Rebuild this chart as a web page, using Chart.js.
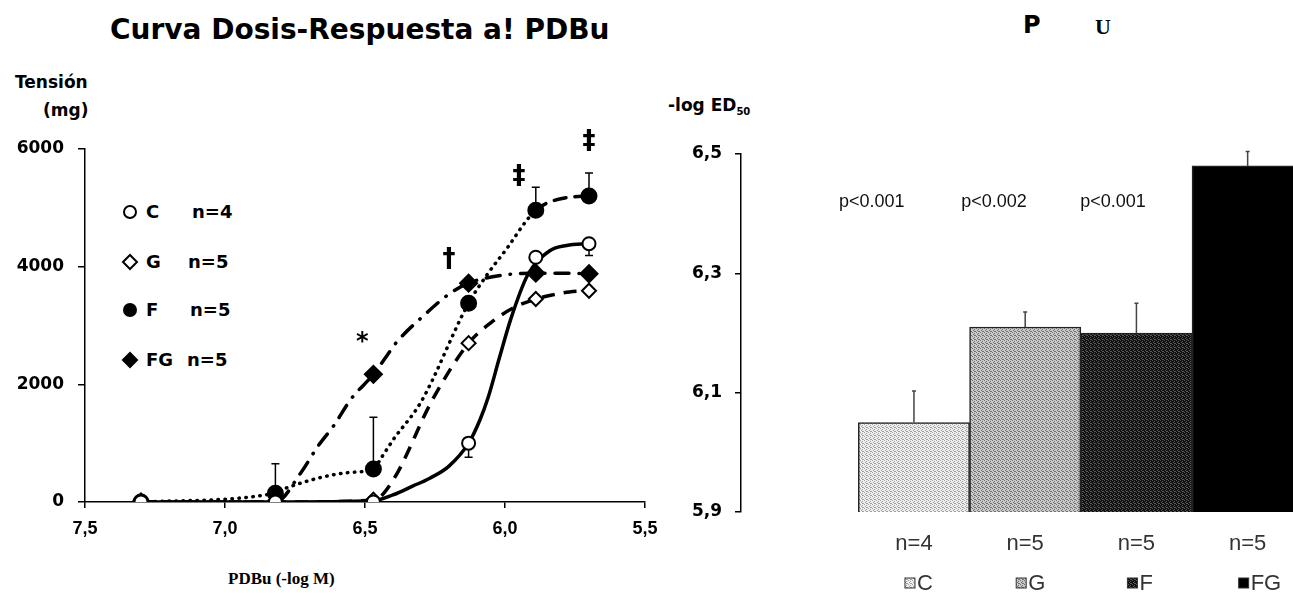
<!DOCTYPE html>
<html>
<head>
<meta charset="utf-8">
<script src="https://cdn.jsdelivr.net/npm/chart.js@4.4.1/dist/chart.umd.min.js"></script>
<style>
html, body { margin:0; padding:0; background:#fff; width:1293px; height:593px; overflow:hidden; position:relative; }
.t { position:absolute; white-space:nowrap; color:#000; line-height:1; }
.dj { font-family:'DejaVu Sans', sans-serif; font-weight:bold; }
canvas { position:absolute; }
</style>
</head>
<body>
<div class="t dj" style="left:110px;top:16px;font-size:28px">Curva Dosis-Respuesta a! PDBu</div>
<div class="t dj" style="left:15px;top:74px;font-size:17px">Tensión</div>
<div class="t dj" style="left:43px;top:102px;font-size:17px">(mg)</div>
<div class="t" style="left:228px;top:569px;font:bold 17px 'Liberation Serif', serif">PDBu (-log M)</div>

<div class="t dj" style="left:146px;top:203px;font-size:18px">C</div><div class="t dj" style="left:192px;top:203px;font-size:18px">n=4</div>
<div class="t dj" style="left:146px;top:253px;font-size:18px">G</div><div class="t dj" style="left:188px;top:253px;font-size:18px">n=5</div>
<div class="t dj" style="left:146px;top:301px;font-size:18px">F</div><div class="t dj" style="left:190px;top:301px;font-size:18px">n=5</div>
<div class="t dj" style="left:146px;top:351px;font-size:18px">FG</div><div class="t dj" style="left:187px;top:351px;font-size:18px">n=5</div>

<div class="t dj" style="left:668px;top:97px;font-size:17px">-log ED<sub style="font-size:10px">50</sub></div>
<div class="t dj" style="left:1023px;top:13px;font-size:24px">P</div>
<div class="t" style="left:1095px;top:14px;font:bold 22px 'Liberation Serif', serif">U</div>

<canvas id="curve" width="680" height="440" style="left:0;top:120px"></canvas>
<canvas id="ed50" width="720" height="473" style="left:640px;top:120px"></canvas>

<script>
// Curva dosis-respuesta al PDBu + -log ED50 por grupo

// measured points (dose in -log M, tension in mg)
const doses = [7.3, 6.82, 6.47, 6.13, 5.89, 5.7];
const tensC  = [0, 0, 0, 1000, 4160, 4390];
const tensG  = [0, 0, 40, 2700, 3450, 3590];
const tensF  = [0, 150, 560, 3380, 4960, 5200];
const tensFG = [0, 0, 2170, 3720, 3890, 3880];
const errUpF   = [0, 500, 880, 0, 390, 390];
const errDownC = [0, 0, 0, 240, 0, 200];

// fitted curves as drawn in the figure
const fitDoseC = [7.3, 6.82, 6.47, 6.40, 6.33, 6.27, 6.20, 6.13, 6.09, 6.06, 6.02, 5.98, 5.92, 5.84, 5.78, 5.7];
const fitC     = [0, 0, 20, 120, 270, 400, 610, 1000, 1390, 1780, 2450, 3100, 3850, 4270, 4360, 4390];
const fitDoseG = [7.3, 6.82, 6.47, 6.40, 6.26, 6.13, 6.05, 5.97, 5.89, 5.83, 5.77, 5.7];
const fitG     = [0, 0, 30, 370, 1730, 2700, 3050, 3300, 3450, 3520, 3570, 3590];
const fitDoseF = [7.3, 6.82, 6.78, 6.56, 6.47, 6.44, 6.40, 6.30, 6.13, 6.06, 5.99, 5.93, 5.89, 5.84, 5.77, 5.7];
const fitF     = [0, 150, 240, 500, 564, 765, 1054, 1700, 3380, 3890, 4330, 4740, 4960, 5100, 5180, 5200];
const fitDoseFG = [7.3, 6.82, 6.73, 6.67, 6.61, 6.55, 6.47, 6.42, 6.39, 6.28, 6.20, 6.13, 6.0, 5.89, 5.81, 5.7];
const fitFG     = [0, 0, 490, 935, 1309, 1750, 2170, 2500, 2700, 3213, 3535, 3720, 3860, 3890, 3890, 3880];

const xTicksL = [7.5, 7.0, 6.5, 6.0, 5.5];
const yTicksL = [0, 2000, 4000, 6000];

// significance marks
const signs    = ['*', '†', '‡', '‡'];
const signDose = [6.51, 6.20, 5.95, 5.70];
const signTens = [2700, 4110, 5520, 6120];

// right panel
const groups  = ['C', 'G', 'F', 'FG'];
const groupN  = ['n=4', 'n=5', 'n=5', 'n=5'];
const ed50    = [6.05, 6.21, 6.20, 6.48];
const ed50Err = [0.053, 0.025, 0.05, 0.024];
const pVals   = ['p<0.001', 'p<0.002', 'p<0.001'];
const pAt     = [0.62, 1.72, 2.79];
const yTicksR = [5.9, 6.1, 6.3, 6.5];

const comma = v => Number(v).toFixed(1).replace('.', ',');
const pts = (xs, ys) => xs.map((d, i) => ({x: d, y: ys[i]}));

const markers = [
  {label:'C',  data:tensC,  style:'circle',  r:6.5, fill:'#fff'},
  {label:'G',  data:tensG,  style:'rectRot', r:7,   fill:'#fff'},
  {label:'F',  data:tensF,  style:'circle',  r:7.5, fill:'#000'},
  {label:'FG', data:tensFG, style:'rectRot', r:8.5, fill:'#000'},
];

const curveSets = [
  {data: pts(fitDoseC, fitC), borderDash: [], borderCapStyle:'butt'},
  {data: pts(fitDoseG, fitG), borderDash: [13, 9], borderCapStyle:'butt'},
  {data: pts(fitDoseF, fitF), borderDash: [0.5, 6.5], borderCapStyle:'round',
   segment: {borderDash: c => c.p0.parsed.x <= 5.9 ? [12, 9] : undefined}},
  {data: pts(fitDoseFG, fitFG), borderDash: [14, 10, 0.5, 10], borderCapStyle:'round'},
];

const legendRowY = [212, 262, 310, 360];

const curveExtras = {
  id: 'curveExtras',
  beforeDatasetsDraw(chart) {
    const {ctx, scales: {x, y}} = chart;
    ctx.save();
    ctx.strokeStyle = '#000';
    ctx.lineWidth = 1.5;
    const whisker = (px, from, to) => {
      ctx.beginPath();
      ctx.moveTo(px, from); ctx.lineTo(px, to);
      ctx.moveTo(px - 4, to); ctx.lineTo(px + 4, to);
      ctx.stroke();
    };
    doses.forEach((d, i) => {
      const px = x.getPixelForValue(d);
      if (errUpF[i]) whisker(px, y.getPixelForValue(tensF[i]), y.getPixelForValue(tensF[i] + errUpF[i]));
      if (errDownC[i]) whisker(px, y.getPixelForValue(tensC[i]), y.getPixelForValue(tensC[i] - errDownC[i]));
    });
    ctx.restore();
  },
  afterDraw(chart) {
    const {ctx, scales: {x, y}} = chart;
    ctx.save();
    ctx.fillStyle = '#000';
    ctx.textAlign = 'center';
    ctx.textBaseline = 'middle';
    signs.forEach((s, i) => {
      ctx.font = s === '*' ? 'bold 24px "DejaVu Sans"' : 'bold 26px "DejaVu Sans"';
      ctx.fillText(s, x.getPixelForValue(signDose[i]), y.getPixelForValue(signTens[i]));
    });
    // legend symbols
    markers.forEach((m, i) => {
      ctx.fillStyle = m.fill;
      ctx.strokeStyle = '#000';
      ctx.lineWidth = 2;
      Chart.helpers.drawPoint(ctx, {pointStyle: m.style, radius: m.style === 'circle' ? 6 : 7, borderWidth: 2},
        130, legendRowY[i] - 120);
    });
    ctx.restore();
  }
};

new Chart(document.getElementById('curve'), {
  type: 'scatter',
  data: {
    datasets: [
      ...markers.map(m => ({
        label: m.label,
        data: pts(doses, m.data),
        pointStyle: m.style,
        pointRadius: m.r,
        pointBackgroundColor: m.fill,
        pointBorderColor: '#000',
        pointBorderWidth: 2,
        showLine: false,
        order: 0
      })),
      ...curveSets.map(c => Object.assign({
        showLine: true,
        pointRadius: 0,
        borderColor: '#000',
        borderWidth: 3.5,
        cubicInterpolationMode: 'monotone',
        order: 1
      }, c))
    ]
  },
  options: {
    responsive: false,
    animation: false,
    devicePixelRatio: 1,
    layout: {padding: {top: 29, right: 35, left: 0, bottom: 0}},
    plugins: {legend: {display: false}, tooltip: {enabled: false}},
    scales: {
      x: {
        type: 'linear', min: 5.5, max: 7.5, reverse: true,
        afterBuildTicks: s => { s.ticks = xTicksL.map(v => ({value: v})); },
        afterFit: s => { s.height = 58; },
        border: {display: true, color: '#000', width: 1.5},
        grid: {display: true, drawOnChartArea: false, drawTicks: true, tickLength: 6, color: '#000', lineWidth: 1.5},
        ticks: {callback: v => comma(v), color: '#000', padding: 10, maxRotation: 0,
                font: {family: 'Liberation Sans', weight: 'bold', size: 18}}
      },
      y: {
        type: 'linear', min: 0, max: 6000,
        afterBuildTicks: s => { s.ticks = yTicksL.map(v => ({value: v})); },
        afterFit: s => { s.width = 85; },
        border: {display: true, color: '#000', width: 1.5},
        grid: {display: true, drawOnChartArea: false, drawTicks: true, tickLength: 7, color: '#000', lineWidth: 1.5},
        ticks: {callback: v => String(v), color: '#000', padding: 14,
                font: {family: 'DejaVu Sans', weight: 'bold', size: 17}}
      }
    }
  },
  plugins: [curveExtras]
});

// ---- right panel: -log ED50 bars ----
function stipple(base, dot) {
  const c = document.createElement('canvas');
  c.width = c.height = 4;
  const g = c.getContext('2d');
  g.fillStyle = base; g.fillRect(0, 0, 4, 4);
  g.fillStyle = dot;
  [[0, 0], [2, 1], [1, 2], [3, 3], [2, 3]].forEach(([a, b]) => g.fillRect(a, b, 1, 1));
  return g.createPattern(c, 'repeat');
}
const barFills = [
  stipple('#eeeeee', '#a0a0a0'),
  stipple('#cacaca', '#707070'),
  stipple('#101010', '#5a5a5a'),
  '#000000'
];

const barExtras = {
  id: 'barExtras',
  afterDatasetsDraw(chart) {
    const {ctx, scales: {x, y}} = chart;
    const bars = chart.getDatasetMeta(0).data;
    ctx.save();
    // error bars
    ctx.strokeStyle = '#444';
    ctx.lineWidth = 1.5;
    bars.forEach((b, i) => {
      const top = y.getPixelForValue(ed50[i] + ed50Err[i]);
      ctx.beginPath();
      ctx.moveTo(b.x, b.y); ctx.lineTo(b.x, top);
      ctx.moveTo(b.x - 2, top); ctx.lineTo(b.x + 2, top);
      ctx.stroke();
    });
    // p values
    ctx.fillStyle = '#111';
    ctx.font = '18px "Liberation Sans"';
    ctx.textAlign = 'center';
    ctx.textBaseline = 'middle';
    pVals.forEach((p, i) => ctx.fillText(p, x.getPixelForValue(pAt[i]), y.getPixelForValue(6.42)));
    // legend under the bars
    ctx.font = '22px "Liberation Sans"';
    ctx.textAlign = 'left';
    const ly = 463;
    bars.forEach((b, i) => {
      ctx.fillStyle = barFills[i];
      ctx.fillRect(b.x - 9, ly - 5, 10, 10);
      ctx.strokeStyle = '#333';
      ctx.lineWidth = 1;
      ctx.strokeRect(b.x - 9, ly - 5, 10, 10);
      ctx.fillStyle = '#333';
      ctx.fillText(groups[i], b.x + 3, ly + 1);
    });
    ctx.restore();
  }
};

new Chart(document.getElementById('ed50'), {
  type: 'bar',
  data: {
    datasets: [{
      data: ed50.map((v, i) => ({x: i + 1, y: v})),
      backgroundColor: barFills,
      borderColor: '#222',
      borderWidth: 1.5,
      barPercentage: 1,
      categoryPercentage: 1
    }]
  },
  options: {
    responsive: false,
    animation: false,
    devicePixelRatio: 1,
    layout: {padding: {top: 34, right: 0, left: 0, bottom: 0}},
    plugins: {legend: {display: false}, tooltip: {enabled: false}},
    scales: {
      x: {
        type: 'linear', min: -0.555, max: 5.01, offset: false,
        afterBuildTicks: s => { s.ticks = groupN.map((n, i) => ({value: i + 1})); },
        afterFit: s => { s.height = 81; },
        border: {display: false},
        grid: {display: false},
        ticks: {callback: (v, i) => groupN[i], color: '#333', padding: 11, maxRotation: 0,
                font: {family: 'Liberation Sans', size: 22}}
      },
      y: {
        type: 'linear', min: 5.9, max: 6.5,
        afterBuildTicks: s => { s.ticks = yTicksR.map(v => ({value: v})); },
        afterFit: s => { s.width = 101; },
        border: {display: true, color: '#000', width: 1.5},
        grid: {display: true, drawOnChartArea: false, drawTicks: true, tickLength: 6, color: '#000', lineWidth: 1.5},
        ticks: {callback: v => comma(v), color: '#000', padding: 13,
                font: {family: 'DejaVu Sans', weight: 'bold', size: 17}}
      }
    }
  },
  plugins: [barExtras]
});
</script>
</body>
</html>
